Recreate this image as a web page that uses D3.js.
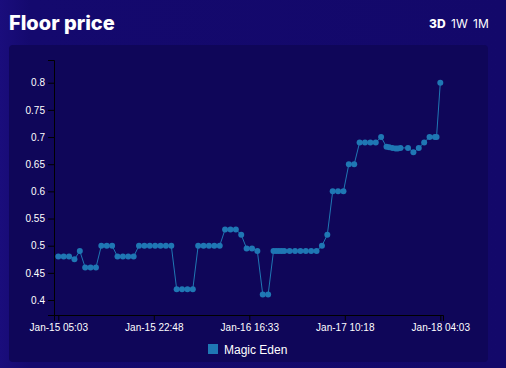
<!DOCTYPE html>
<html>
<head>
<meta charset="utf-8">
<script src="https://cdn.jsdelivr.net/npm/d3@7"></script>
<style>
  html, body { margin: 0; padding: 0; background: #13086c; }
  svg { display: block; }
</style>
</head>
<body>
<svg id="svg" width="506" height="368"></svg>
<script>
// 数据
var times = [
  "2022-01-15 05:03", "2022-01-15 06:03", "2022-01-15 07:03", "2022-01-15 08:03", "2022-01-15 09:03",
  "2022-01-15 10:03", "2022-01-15 11:03", "2022-01-15 12:03", "2022-01-15 13:03", "2022-01-15 14:03",
  "2022-01-15 15:03", "2022-01-15 16:03", "2022-01-15 17:03", "2022-01-15 18:03", "2022-01-15 19:03",
  "2022-01-15 20:03", "2022-01-15 21:03", "2022-01-15 22:03", "2022-01-15 23:03", "2022-01-16 00:03",
  "2022-01-16 01:03", "2022-01-16 02:03", "2022-01-16 03:03", "2022-01-16 04:03", "2022-01-16 05:03",
  "2022-01-16 06:03", "2022-01-16 07:03", "2022-01-16 08:03", "2022-01-16 09:03", "2022-01-16 10:03",
  "2022-01-16 11:03", "2022-01-16 12:03", "2022-01-16 13:03", "2022-01-16 14:03", "2022-01-16 15:03",
  "2022-01-16 16:03", "2022-01-16 17:03", "2022-01-16 18:03", "2022-01-16 19:03", "2022-01-16 20:03",
  "2022-01-16 21:03", "2022-01-16 21:33", "2022-01-16 22:03", "2022-01-16 22:33", "2022-01-16 23:03",
  "2022-01-17 00:03", "2022-01-17 01:03", "2022-01-17 02:03", "2022-01-17 03:03", "2022-01-17 04:03",
  "2022-01-17 05:03", "2022-01-17 06:03", "2022-01-17 07:03", "2022-01-17 08:03", "2022-01-17 09:03",
  "2022-01-17 10:03", "2022-01-17 11:03", "2022-01-17 12:03", "2022-01-17 13:03", "2022-01-17 14:03",
  "2022-01-17 15:03", "2022-01-17 16:03", "2022-01-17 17:03", "2022-01-17 18:03", "2022-01-17 18:33",
  "2022-01-17 19:09", "2022-01-17 19:45", "2022-01-17 20:09", "2022-01-17 20:39", "2022-01-17 22:03",
  "2022-01-17 23:03", "2022-01-18 00:03", "2022-01-18 01:03", "2022-01-18 02:03", "2022-01-18 03:03",
  "2022-01-18 03:21", "2022-01-18 04:03"
];
var prices = [
  0.48, 0.48, 0.48, 0.475, 0.49,
  0.46, 0.46, 0.46, 0.50, 0.50,
  0.50, 0.48, 0.48, 0.48, 0.48,
  0.50, 0.50, 0.50, 0.50, 0.50,
  0.50, 0.50, 0.42, 0.42, 0.42,
  0.42, 0.50, 0.50, 0.50, 0.50,
  0.50, 0.53, 0.53, 0.53, 0.52,
  0.495, 0.495, 0.49, 0.41, 0.41,
  0.49, 0.49, 0.49, 0.49, 0.49,
  0.49, 0.49, 0.49, 0.49, 0.49,
  0.49, 0.50, 0.52, 0.60, 0.60,
  0.60, 0.65, 0.65, 0.69, 0.69,
  0.69, 0.69, 0.70, 0.682, 0.681,
  0.68, 0.679, 0.679, 0.68, 0.68,
  0.672, 0.68, 0.69, 0.70, 0.70,
  0.70, 0.80
];
var seriesName = "Magic Eden";
var ranges = ["3D", "1W", "1M"];
var yTicks = [0.4, 0.45, 0.5, 0.55, 0.6, 0.65, 0.7, 0.75, 0.8];

!function() {
  var svg = d3.select("#svg"),
      W = +svg.attr("width"),
      H = +svg.attr("height"),
      color = "#1f77b4",
      parse = d3.timeParse("%Y-%m-%d %H:%M"),
      fmt = d3.timeFormat("%b-%d %H:%M");

  var data = times.map(function(t, i) {
    return {t: parse(t), v: prices[i]};
  });

  // 背景
  var defs = svg.append("defs");
  var gr = defs.append("linearGradient").attr("id", "bg").attr("x1", 0).attr("x2", 1).attr("y1", 0).attr("y2", 0);
  gr.append("stop").attr("offset", 0).attr("stop-color", "#1a0d7c");
  gr.append("stop").attr("offset", 0.06).attr("stop-color", "#14096e");
  gr.append("stop").attr("offset", 1).attr("stop-color", "#13086a");
  svg.append("rect").attr("width", W).attr("height", H).attr("fill", "url(#bg)");
  svg.append("rect").attr("x", 9).attr("y", 45).attr("width", 479).attr("height", 317)
    .attr("rx", 4).attr("fill", "#0f0659");

  // 标题
  svg.append("text").attr("x", 9).attr("y", 30)
    .attr("font-family", "Inter, 'Open Sans', sans-serif").attr("font-weight", 800)
    .attr("font-size", 20).attr("fill", "#fff").text("Floor price");

  var rx = [429, 451, 473];
  svg.selectAll(".range").data(ranges).enter().append("text")
    .attr("class", "range")
    .attr("x", function(d, i) { return rx[i]; })
    .attr("y", 28)
    .attr("font-family", "Inter, 'Open Sans', sans-serif")
    .attr("font-weight", function(d, i) { return i == 0 ? 800 : 400; })
    .attr("font-size", 12).attr("fill", "#fff").text(function(d) { return d; });

  // 比例尺
  var x = d3.scaleTime().domain([data[0].t, data[data.length - 1].t]).range([58.3, 440.3]);
  var xa = x.copy().domain([x.invert(54), x.invert(443)]).range([54, 443]);
  var y = d3.scaleLinear().domain([0.3724, 0.8418]).range([315, 60]);

  var t0 = +data[0].t, t1 = +data[data.length - 1].t;
  var xTicks = d3.range(5).map(function(i) { return new Date(t0 + (t1 - t0) * i / 4); });

  var gx = svg.append("g").attr("transform", "translate(0,315)")
    .call(d3.axisBottom(xa).tickValues(xTicks).tickFormat(fmt));
  var gy = svg.append("g").attr("transform", "translate(54,0)")
    .call(d3.axisLeft(y).tickValues(yTicks).tickFormat(d3.format("")));
  [gx, gy].forEach(function(g) {
    g.selectAll("path, line").attr("stroke", "#000");
    g.selectAll("text").attr("fill", "#fff").attr("font-family", "'Liberation Sans', Arial, sans-serif").attr("font-size", 10);
  });

  // 折线
  var line = d3.line().x(function(d) { return x(d.t); }).y(function(d) { return y(d.v); });
  svg.append("path").datum(data).attr("fill", "none").attr("stroke", color)
    .attr("stroke-width", 1).attr("d", line);
  svg.append("g").selectAll("circle").data(data).enter().append("circle")
    .attr("cx", function(d) { return x(d.t); })
    .attr("cy", function(d) { return y(d.v); })
    .attr("r", 3).attr("fill", color);

  // 图例
  var lg = svg.append("g").attr("transform", "translate(208,344)");
  lg.append("rect").attr("width", 10).attr("height", 10).attr("fill", color);
  lg.append("text").attr("x", 16).attr("y", 9.5)
    .attr("font-family", "'Liberation Sans', Arial, sans-serif").attr("font-size", 12)
    .attr("fill", "#fff").text(seriesName);
}();
</script>
</body>
</html>
